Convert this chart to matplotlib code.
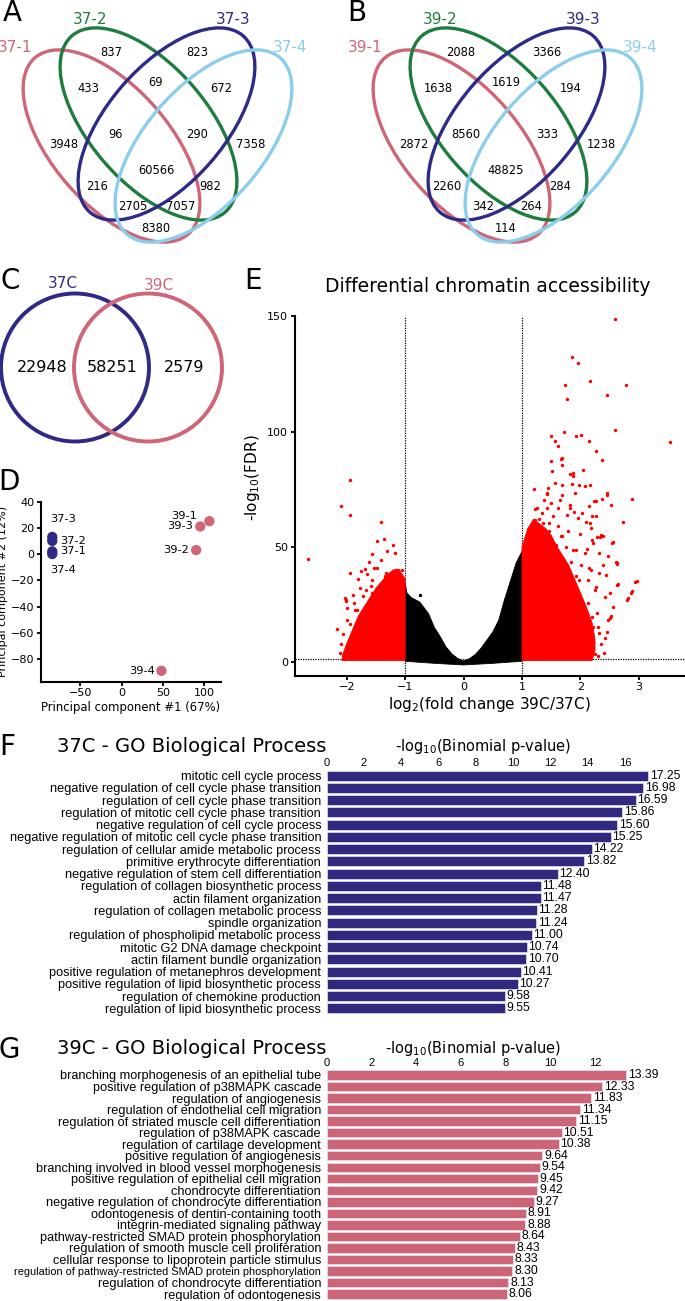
import matplotlib
matplotlib.use('Agg')
import matplotlib.pyplot as plt
from matplotlib.patches import Ellipse, Circle

# ---------------------------------------------------------------- data
venn37_sets = ['37-1', '37-2', '37-3', '37-4']
venn37_counts = [837, 823, 433, 69, 672, 96, 290, 3948, 7358, 60566, 216, 982, 2705, 7057, 8380]
venn39_sets = ['39-1', '39-2', '39-3', '39-4']
venn39_counts = [2088, 3366, 1638, 1619, 194, 8560, 333, 2872, 1238, 48825, 2260, 284, 342, 264, 114]

overlap_sets = ['37C', '39C']
overlap_counts = [22948, 58251, 2579]

pca_samples = ['37-1', '37-2', '37-3', '37-4', '39-1', '39-2', '39-3', '39-4']
pca_pc1 = [-84, -84, -84, -84, 106, 90, 95, 48]
pca_pc2 = [2, 10, 13, 0, 25, 3, 21, -89]

# volcano: outlines of the solid (saturated) point clouds
ns_cloud_x = [-1.0, -0.97, -0.9, -0.75, -0.6, -0.5, -0.4, -0.3, -0.2, -0.1, 0.0, 0.1, 0.2, 0.3, 0.4,
              0.5, 0.6, 0.7, 0.8, 0.9, 1.0, 1.0, 0.5, 0.0, -0.5, -1.0]
ns_cloud_y = [34, 30, 28, 26, 21, 15, 11, 6.5, 3.5, 1.5, 0.4, 1.4, 3.2, 6.0, 9.5,
              13, 18, 27, 35, 43, 48, 0.3, -0.6, -1.3, -0.6, 0.3]
up_cloud_x = [1.0, 1.0, 1.1, 1.2, 1.3, 1.4, 1.5, 1.6, 1.7, 1.8, 1.9, 2.0, 2.1, 2.2, 2.25, 2.25, 2.2, 1.0]
up_cloud_y = [0.6, 50, 58, 62, 60, 58, 55, 50, 46, 42, 36, 30, 24, 17, 10, 5, 0.6, 0.6]
down_cloud_x = [-1.0, -1.0, -1.1, -1.2, -1.3, -1.4, -1.5, -1.6, -1.7, -1.8, -1.9, -2.0, -2.07, -2.08, -1.0]
down_cloud_y = [0.6, 36, 40, 40, 38, 35, 32, 28, 24, 20, 14, 8, 3, 0.6, 0.6]

# volcano: individual sparse points
up_pts_x = [2.60, 1.85, 1.95, 2.17, 2.78, 1.74, 1.77, 2.45, 2.59, 1.72, 3.54, 2.01, 1.92, 2.15, 1.49,
            2.27, 2.37, 2.88, 2.73, 2.96, 2.89, 2.81, 2.65, 2.53, 1.21, 1.50, 1.52, 1.68, 1.88, 2.04,
            1.90, 1.98, 2.17, 2.46, 2.53, 1.57, 2.37, 2.23, 2.29, 2.36, 2.55, 2.61, 2.63, 2.18, 2.09,
            1.89, 1.57, 1.61, 1.67, 1.68, 1.82, 1.87, 1.68, 1.85, 2.08, 1.45, 1.43, 1.68, 2.45, 1.37,
            1.50, 1.22, 1.61, 1.83, 2.15, 2.26, 1.29, 1.47, 1.77, 1.95, 2.20, 1.35, 1.68, 1.99, 2.20,
            2.34, 2.54, 1.87, 2.12, 2.32, 2.47, 2.62, 2.38, 2.14, 2.43, 2.63, 2.94, 2.80, 2.86, 2.51,
            2.20, 2.42, 2.26, 1.98, 1.25, 1.34, 1.42, 1.23, 1.36, 1.53, 1.62, 1.47, 1.16, 1.30, 1.67,
            1.79, 1.14, 1.42, 1.59, 1.76, 1.93, 2.07, 1.25, 1.53, 1.67, 1.84, 2.01, 2.18, 2.32, 1.93,
            2.13, 2.25, 2.42, 2.56, 2.28, 2.13, 2.50, 2.47, 2.21, 2.32, 1.42, 1.65, 1.82, 2.02, 2.16,
            2.27, 2.39, 2.21, 2.20, 2.25, 2.15, 2.30, 2.10, 2.20, 2.35, 2.40, 2.30, 2.45]
up_pts_y = [148.9, 132.5, 129.6, 121.8, 120.4, 120.2, 114.3, 115.9, 100.6, 99.9, 95.6, 98.6, 97.9, 95.8, 98.2,
            91.7, 87.7, 70.9, 60.6, 35.1, 30.8, 27.7, 34.0, 19.8, 75.2, 87.4, 83.1, 88.4, 81.9, 83.5,
            73.3, 76.6, 76.9, 73.3, 68.3, 77.7, 70.9, 69.9, 54.3, 55.0, 52.2, 43.5, 42.4, 58.3, 60.8,
            65.1, 95.8, 93.6, 88.1, 85.3, 81.7, 80.6, 77.0, 77.4, 76.5, 75.5, 72.9, 72.3, 72.6, 70.4,
            69.0, 66.4, 66.8, 66.8, 67.5, 69.7, 62.0, 60.3, 63.9, 62.5, 63.2, 56.2, 54.5, 55.7, 53.0,
            54.2, 51.6, 48.4, 49.0, 47.3, 45.8, 42.9, 41.9, 40.7, 37.8, 33.5, 34.5, 27.0, 29.9, 19.0,
            19.7, 10.3, 32.7, 35.7, 66.8, 64.6, 66.8, 61.7, 60.3, 63.2, 58.8, 56.7, 56.0, 54.5, 54.5,
            56.7, 51.6, 50.4, 50.9, 50.1, 48.7, 47.3, 47.3, 46.5, 45.1, 43.6, 42.2, 40.0, 38.6, 37.1,
            35.7, 31.3, 28.4, 24.0, 21.2, 25.5, 29.9, 18.3, 15.3, 12.5, 73.3, 70.4, 68.3, 64.6, 60.3,
            63.2, 54.5, 51.6, 6.0, 3.5, 9.0, 15.0, 14.0, 11.0, 8.0, 4.0, 2.5, 13.0]
down_pts_x = [-2.66, -1.94, -2.10, -1.94, -1.41, -1.36, -1.48, -1.20, -1.17, -1.31, -1.56, -1.94, -1.68,
              -1.48, -1.81, -1.15, -1.06, -2.03, -2.02, -2.16, -1.65, -1.35, -1.77, -1.57, -1.99, -1.86,
              -1.88, -1.99, -1.83, -1.67, -1.56, -1.33, -1.24, -1.13, -1.53, -1.42, -1.62, -1.76, -1.89,
              -2.01, -2.10, -2.07, -2.12, -1.95, -1.72, -1.58]
down_pts_y = [44.9, 79.1, 67.5, 63.9, 60.7, 53.3, 52.3, 50.7, 47.3, 48.0, 47.0, 38.8, 40.3,
              40.9, 36.1, 40.0, 39.7, 27.7, 26.5, 14.3, 38.3, 37.1, 32.0, 29.9, 18.3, 22.6,
              25.5, 23.3, 22.6, 31.3, 35.7, 38.6, 35.7, 40.0, 40.7, 44.3, 43.6, 39.3, 29.1,
              27.0, 8.0, 12.0, 4.0, 16.5, 28.5, 33.0]
ns_pts_x = [-0.745]
ns_pts_y = [29.1]
fc_cutoff = 1.0
fdr_cutoff = 1.3

go37_terms = ['mitotic cell cycle process',
              'negative regulation of cell cycle phase transition',
              'regulation of cell cycle phase transition',
              'regulation of mitotic cell cycle phase transition',
              'negative regulation of cell cycle process',
              'negative regulation of mitotic cell cycle phase transition',
              'regulation of cellular amide metabolic process',
              'primitive erythrocyte differentiation',
              'negative regulation of stem cell differentiation',
              'regulation of collagen biosynthetic process',
              'actin filament organization',
              'regulation of collagen metabolic process',
              'spindle organization',
              'regulation of phospholipid metabolic process',
              'mitotic G2 DNA damage checkpoint',
              'actin filament bundle organization',
              'positive regulation of metanephros development',
              'positive regulation of lipid biosynthetic process',
              'regulation of chemokine production',
              'regulation of lipid biosynthetic process']
go37_values = [17.25, 16.98, 16.59, 15.86, 15.60, 15.25, 14.22, 13.82, 12.40, 11.48,
               11.47, 11.28, 11.24, 11.00, 10.74, 10.70, 10.41, 10.27, 9.58, 9.55]
go39_terms = ['branching morphogenesis of an epithelial tube',
              'positive regulation of p38MAPK cascade',
              'regulation of angiogenesis',
              'regulation of endothelial cell migration',
              'regulation of striated muscle cell differentiation',
              'regulation of p38MAPK cascade',
              'regulation of cartilage development',
              'positive regulation of angiogenesis',
              'branching involved in blood vessel morphogenesis',
              'positive regulation of epithelial cell migration',
              'chondrocyte differentiation',
              'negative regulation of chondrocyte differentiation',
              'odontogenesis of dentin-containing tooth',
              'integrin-mediated signaling pathway',
              'pathway-restricted SMAD protein phosphorylation',
              'regulation of smooth muscle cell proliferation',
              'cellular response to lipoprotein particle stimulus',
              'regulation of pathway-restricted SMAD protein phosphorylation',
              'regulation of chondrocyte differentiation',
              'regulation of odontogenesis']
go39_values = [13.39, 12.33, 11.83, 11.34, 11.15, 10.51, 10.38, 9.64, 9.54, 9.45,
               9.42, 9.27, 8.91, 8.88, 8.64, 8.43, 8.33, 8.30, 8.13, 8.06]

# ---------------------------------------------------------------- style
PINK = '#CE6677'
GREEN = '#1E7D3E'
INDIGO = '#2E2A86'
LBLUE = '#8DCDEC'
BAR37 = '#31287F'
BAR39 = '#CC6677'
SANS = ['DejaVu Sans']
NARROW = ['Liberation Sans', 'DejaVu Sans']
plt.rcParams['font.family'] = SANS

W, H = 685, 1301
fig = plt.figure(figsize=(W / 100, H / 100), dpi=100)


def px_axes(left, top, width, height):
    ax = fig.add_axes([left / W, 1 - (top + height) / H, width / W, height / H])
    ax.patch.set_alpha(0)
    return ax


# full-figure overlay in pixel coordinates (for Venns, panel letters, titles)
ov = fig.add_axes([0, 0, 1, 1])
ov.set_xlim(0, W)
ov.set_ylim(H, 0)
ov.axis('off')

for letter, (lx, ly) in zip('ABCDEFG', [(12, 13), (357, 13), (10, 281), (9, 482),
                                        (253, 281), (7, 747), (9, 1050)]):
    ov.text(lx, ly, letter, fontsize=20, ha='center', va='center')

# ---------------------------------------------------------------- A & B Venns
ell_centers = [(111.5, 146), (148.5, 124), (166.5, 124), (203.5, 146)]
ell_angles = [49, 49, -49, -49]
ell_colors = [PINK, GREEN, INDIGO, LBLUE]
set_label_pos = [(15, 47), (90, 20), (233, 20), (290, 47)]
region_pos = [(111, 52), (197, 52), (88, 88), (156, 83), (221, 88), (116, 134), (197, 134),
              (64, 145), (251, 145), (156, 170), (97, 186), (210, 186), (133, 207), (181, 207),
              (156, 228)]

for dx, sets, counts in [(0, venn37_sets, venn37_counts), (350, venn39_sets, venn39_counts)]:
    for (cx, cy), ang, col in zip(ell_centers, ell_angles, ell_colors):
        ov.add_patch(Ellipse((cx + dx, cy), 233.6, 116.8, angle=ang, fill=False,
                             edgecolor=col, lw=2.4))
    for name, (sx, sy), col in zip(sets, set_label_pos, ell_colors):
        ov.text(sx + dx, sy, name, color=col, fontsize=11, ha='center', va='center')
    for cnt, (rx, ry) in zip(counts, region_pos):
        ov.text(rx + dx, ry, str(cnt), fontsize=8.3, ha='center', va='center')

# ---------------------------------------------------------------- C Venn
for (cx, cy), col in zip([(75, 367.5), (148, 367.5)], [INDIGO, PINK]):
    ov.add_patch(Circle((cx, cy), 74, fill=False, edgecolor=col, lw=2.8))
for name, (sx, sy), col in zip(overlap_sets, [(63, 284), (159, 285)], [INDIGO, PINK]):
    ov.text(sx, sy, name, color=col, fontsize=11, ha='center', va='center')
for cnt, (rx, ry) in zip(overlap_counts, [(42, 368), (112, 368), (184, 368)]):
    ov.text(rx, ry, str(cnt), fontsize=11.5, ha='center', va='center')

# ---------------------------------------------------------------- D PCA
axD = px_axes(40.7, 501.5, 180, 180.5)
axD.set_xlim(-98, 119.7)
axD.set_ylim(-97.5, 40)
for s in ['top', 'right']:
    axD.spines[s].set_visible(False)
for s in ['left', 'bottom']:
    axD.spines[s].set_linewidth(1.5)
axD.set_xticks([-50, 0, 50, 100])
axD.set_yticks([-80, -60, -40, -20, 0, 20, 40])
axD.tick_params(width=1.3, length=3, labelsize=8, pad=1.5)
pca_colors = [INDIGO if s.startswith('37') else PINK for s in pca_samples]
axD.scatter(pca_pc1, pca_pc2, s=55, c=pca_colors, linewidths=0, clip_on=False, zorder=3)
label_offsets = {'37-3': (8, 9, 'center', 'bottom'), '37-2': (6, 0, 'left', 'center'),
                 '37-1': (6, 0, 'left', 'center'), '37-4': (8, -8, 'center', 'top'),
                 '39-1': (-9, 4, 'right', 'center'), '39-3': (-5, 0, 'right', 'center'),
                 '39-2': (-5, 0, 'right', 'center'), '39-4': (-5, 0, 'right', 'center')}
for name, x, y in zip(pca_samples, pca_pc1, pca_pc2):
    ox, oy, ha, va = label_offsets[name]
    axD.annotate(name, (x, y), xytext=(ox, oy), textcoords='offset points',
                 ha=ha, va=va, fontsize=8.2)
axD.set_xlabel('Principal component #1 (67%)', fontsize=8.4, labelpad=2)
axD.set_ylabel('Principal component #2 (12%)', fontsize=8)
axD.yaxis.set_label_coords((8.5 - 40.7) / 180, 0.5)

# ---------------------------------------------------------------- E volcano
axE = px_axes(294.5, 316.4, 390.5, 359.6)
axE.set_xlim(-2.894, 3.79)
axE.set_ylim(-6.1, 150)
for s in ['top', 'right']:
    axE.spines[s].set_visible(False)
for s in ['left', 'bottom']:
    axE.spines[s].set_linewidth(1.5)
axE.set_xticks([-2, -1, 0, 1, 2, 3])
axE.set_yticks([0, 50, 100, 150])
axE.tick_params(width=1.3, length=3, labelsize=8, pad=1.5)
for xv in (-fc_cutoff, fc_cutoff):
    axE.axvline(xv, color='black', lw=0.9, ls=(0, (1, 1)), zorder=1)
axE.axhline(fdr_cutoff, color='black', lw=0.9, ls=(0, (1, 1)), zorder=1)
axE.fill(ns_cloud_x, ns_cloud_y, color='black', lw=0.6, zorder=2)
axE.fill(up_cloud_x, up_cloud_y, color='#FF0000', lw=0.6, zorder=2)
axE.fill(down_cloud_x, down_cloud_y, color='#FF0000', lw=0.6, zorder=2)
axE.scatter(up_pts_x, up_pts_y, s=6, c='#FF0000', linewidths=0, zorder=3)
axE.scatter(down_pts_x, down_pts_y, s=6, c='#FF0000', linewidths=0, zorder=3)
axE.scatter(ns_pts_x, ns_pts_y, s=6, c='black', linewidths=0, zorder=3)
axE.set_xlabel(r'log$_2$(fold change 39C/37C)', fontsize=11, labelpad=2)
ov.text(253, 478, r'-log$_{10}$(FDR)', fontsize=11, rotation=90, ha='center', va='center')
ov.text(488, 287, 'Differential chromatin accessibility', fontsize=13.5, ha='center', va='center')


# ---------------------------------------------------------------- F & G GO bars
def go_panel(first_center, spacing, x0, ppu, xmax, terms, values, color, tick_max):
    n = len(terms)
    ax = px_axes(x0, first_center - spacing / 2, xmax * ppu, spacing * n)
    pos = list(range(n))
    ax.barh(pos, values, height=0.82, color=color, edgecolor='#E6E3F0', linewidth=0.5)
    ax.set_ylim(n - 0.5, -0.5)
    ax.set_xlim(0, xmax)
    ax.xaxis.tick_top()
    ax.set_xticks(list(range(0, tick_max + 1, 2)))
    ax.set_yticks(pos)
    ax.set_yticklabels(terms, family=NARROW, fontsize=9.2)
    for lab in ax.get_xticklabels():
        lab.set_family(NARROW)
    ax.tick_params(axis='x', length=0, pad=1, labelsize=8)
    ax.tick_params(axis='y', length=0, pad=4)
    for s in ax.spines.values():
        s.set_visible(False)
    for i, v in enumerate(values):
        ax.text(v + 0.08, i, f'{v:.2f}', va='center', ha='left', fontsize=8.8,
                family=NARROW, clip_on=False)
    return ax


axF = go_panel(775.7, 12.24, 326.7, 18.64, 18.5, go37_terms, go37_values, BAR37, 16)
axG = go_panel(1075, 11.53, 326.6, 22.37, 15.0, go39_terms, go39_values, BAR39, 12)
for lab in axG.get_yticklabels():
    if lab.get_text().startswith('regulation of pathway'):
        lab.set_fontsize(7.9)

ov.text(57, 747, '37C - GO Biological Process', fontsize=14, ha='left', va='center')
ov.text(57, 1049, '39C - GO Biological Process', fontsize=14, ha='left', va='center')
ov.text(483, 746, r'-log$_{10}$(Binomial p-value)', fontsize=10.5, ha='center', va='center')
ov.text(473, 1048, r'-log$_{10}$(Binomial p-value)', fontsize=10.5, ha='center', va='center')

fig.savefig('out.png', dpi=100)
